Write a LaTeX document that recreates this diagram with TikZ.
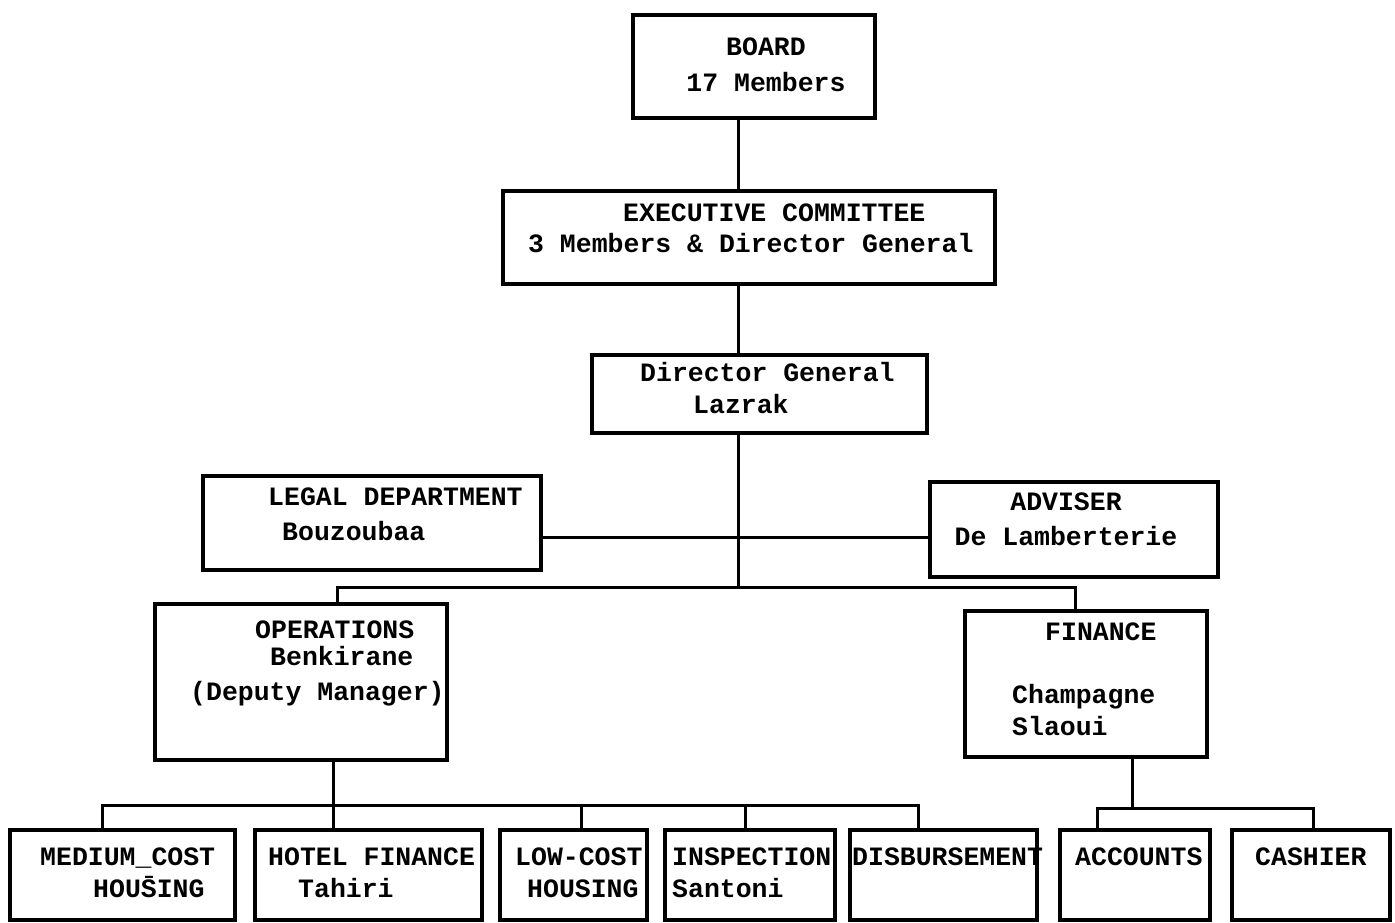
\documentclass[tikz,border=0pt]{standalone}
\usepackage{fontspec}
\newfontfamily\typer{Liberation Mono}
\newcommand\typefont{\typer\bfseries\fontsize{26.5}{32}\selectfont}
\begin{document}
\begin{tikzpicture}[x=1pt,y=-1pt,
	box/.style={draw,line width=3.6pt,inner sep=0,outer sep=0},
	txt/.style={font=\typefont,inner sep=0,anchor=base west,align=left,text width=480pt,execute at begin node={\spaceskip=15.9pt\xspaceskip=15.9pt\relax}},
	ctxt/.style={font=\typefont,inner sep=0,anchor=base,align=center,text width=480pt,execute at begin node={\spaceskip=15.9pt\xspaceskip=15.9pt\relax}},
	link/.style={line width=3pt}]
	\useasboundingbox (0,0) rectangle (1395,923);
	% boxes
	\node[box,minimum width=242pt,minimum height=103pt] (board) at (754,66.5) {};
	\node[box,minimum width=492pt,minimum height=93pt] (exec) at (749,237.5) {};
	\node[box,minimum width=335pt,minimum height=78pt] (dg) at (759.5,394) {};
	\node[box,minimum width=338pt,minimum height=94pt] (legal) at (372,523) {};
	\node[box,minimum width=288pt,minimum height=95pt] (adviser) at (1074,529.5) {};
	\node[box,minimum width=292pt,minimum height=156pt] (ops) at (301,682) {};
	\node[box,minimum width=242pt,minimum height=146pt] (fin) at (1086,684) {};
	\node[box,minimum width=225pt,minimum height=90pt] (medium) at (122.5,875) {};
	\node[box,minimum width=227pt,minimum height=90pt] (hotel) at (368.5,875) {};
	\node[box,minimum width=147pt,minimum height=90pt] (lowcost) at (573.5,875) {};
	\node[box,minimum width=170pt,minimum height=90pt] (insp) at (750,875) {};
	\node[box,minimum width=187pt,minimum height=90pt] (disb) at (943.5,875) {};
	\node[box,minimum width=150pt,minimum height=90pt] (acc) at (1135,875) {};
	\node[box,minimum width=158pt,minimum height=90pt] (cash) at (1311,875) {};
	% texts
	\node[ctxt] (board-t) at (766,56) {BOARD\\[4pt]17 Members};
	\node[txt] (exec-t) at (528,221) {\hspace*{95pt}EXECUTIVE COMMITTEE\\3 Members \& Director General};
	\node[txt] (dg-t) at (640,381) {Director General\\\hspace*{53pt}Lazrak};
	\node[txt] (legal-t) at (268,505) {LEGAL DEPARTMENT\\[3pt]\hspace*{14pt}Bouzoubaa};
	\node[ctxt] (adviser-t) at (1066,510) {ADVISER\\[3pt]De Lamberterie};
	\node[txt] (ops-t) at (190,638) {\hspace*{65pt}OPERATIONS\\[-5pt]\hspace*{80pt}Benkirane\\[3pt](Deputy Manager)};
	\node[txt] (fin-t) at (1012,640) {\hspace*{33pt}FINANCE\\[31pt]Champagne\\Slaoui};
	\node[txt] (medium-t) at (40,865) {MEDIUM\_COST\\\hspace*{53pt}HOU\=SING};
	\node[txt] (hotel-t) at (268,865) {HOTEL FINANCE\\\hspace*{30pt}Tahiri};
	\node[txt] (lowcost-t) at (515,865) {LOW-COST\\\hspace*{12pt}HOUSING};
	\node[txt] (insp-t) at (672,865) {INSPECTION\\Santoni};
	\node[txt] (disb-t) at (852,865) {DISBURSEMENT};
	\node[txt] (acc-t) at (1075,865) {ACCOUNTS};
	\node[txt] (cash-t) at (1255,865) {CASHIER};
	% connectors
	\coordinate (spine) at (738,0);
	\coordinate (side) at (0,537);
	\coordinate (bus1) at (0,587);
	\coordinate (bus2) at (0,805);
	\coordinate (bus3) at (0,808);
	\coordinate (opsdrop) at ([xshift=32pt]ops.south);
	\coordinate (findrop) at ([xshift=46pt]fin.south);
	\draw[link] (spine |- board.south) -- (spine |- exec.north);
	\draw[link] (spine |- exec.south) -- (spine |- dg.north);
	\draw[link] (spine |- dg.south) -- (spine |- bus1);
	\draw[link] (legal.east |- side) -- (adviser.west |- side);
	\draw[link] ([xshift=36pt]ops.north) |- (spine |- bus1) -| ([xshift=-11pt]fin.north);
	\draw[link] (opsdrop) -- (opsdrop |- hotel.north);
	\draw[link] ([xshift=-20pt]medium.north) |- (opsdrop |- bus2) -| ([xshift=-25pt]disb.north);
	\draw[link] ([xshift=8pt]lowcost.north) -- ([xshift=8pt]lowcost.north |- bus2);
	\draw[link] ([xshift=-5pt]insp.north) -- ([xshift=-5pt]insp.north |- bus2);
	\draw[link] (findrop) -- (findrop |- bus3);
	\draw[link] ([xshift=-38pt]acc.north) |- (findrop |- bus3) -| ([xshift=2pt]cash.north);
\end{tikzpicture}
\end{document}
